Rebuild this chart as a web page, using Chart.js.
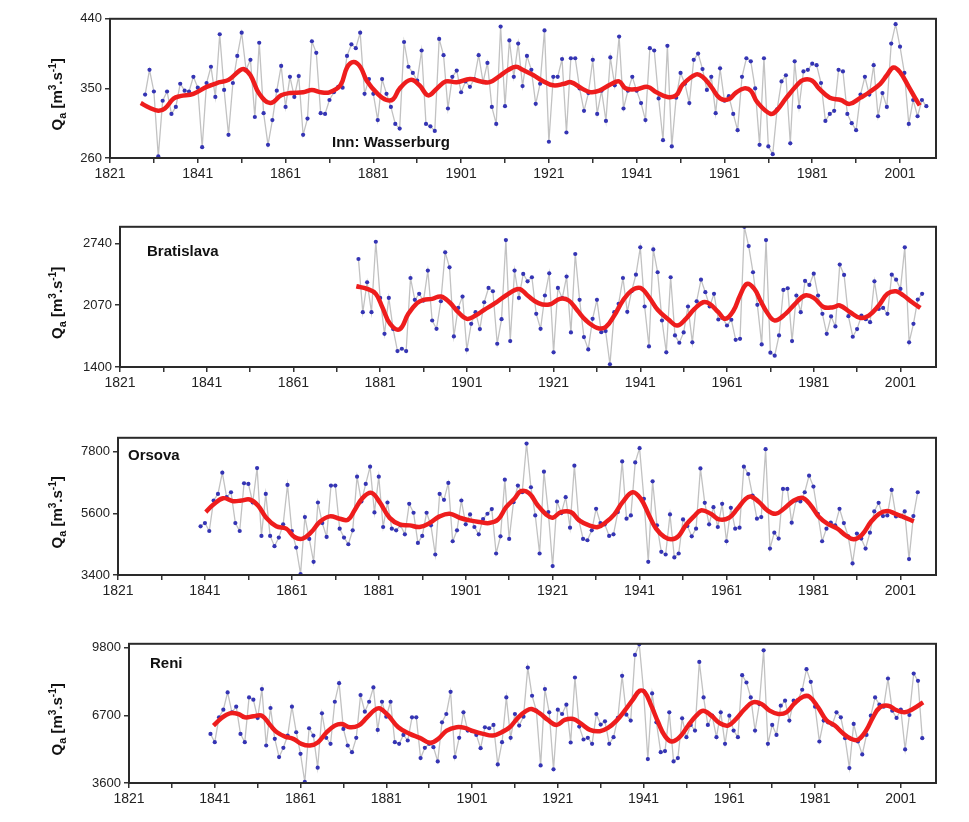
<!DOCTYPE html>
<html>
<head>
<meta charset="utf-8">
<script src="https://cdn.jsdelivr.net/npm/chart.js@4.4.1/dist/chart.umd.min.js"></script>
<style>
body{margin:0;background:#fff;}
#wrap{position:relative;width:969px;height:822px;overflow:hidden;}
#wrap canvas{position:absolute;left:0;}
</style>
</head>
<body>
<div id="wrap"></div>
<script>
/* annual discharge Qa, one value per year from the start year */
const stations = ["Inn: Wasserburg","Bratislava","Orsova","Reni"];
const startYears = [1829, 1876, 1840, 1840];

const innQ = [342,374,346,262,334,346,317,326,356,347,346,365,351,274,357,378,339,420,348,290,
357,392,422,374,387,313,409,318,277,309,347,379,326,365,339,366,290,311,411,396,
318,317,335,345,352,351,392,407,402,422,343,362,343,309,362,343,326,304,298,
410,378,370,360,399,304,301,295,414,393,324,365,373,345,359,352,362,393,358,383,
326,304,430,327,412,365,408,353,392,374,330,356,425,281,365,365,388,293,389,389,
350,321,344,387,317,347,308,390,354,417,324,347,365,347,331,309,402,399,337,283,
405,275,338,370,
356,331,387,395,375,348,365,318,376,334,340,317,296,365,389,385,350,277,389,275,
265,323,359,367,279,385,326,372,374,382,380,357,308,317,321,374,372,317,305,296,
342,365,342,380,314,344,326,408,433,404,370,304,335,314,335,327];

const bratQ = [2571,1994,2319,1994,2758,2149,1760,2149,1811,1573,1598,1573,
2365,2128,2193,2120,2445,1904,1814,2113,2643,2481,1732,2041,2164,1587,1868,1994,1811,2102,
2257,2221,1652,1919,2776,1681,2445,2149,2409,2329,2373,1976,1814,2175,2416,1559,2257,2146,
2380,1775,2625,2128,1724,1591,1922,2128,1778,1789,1429,1994,2085,2365,1998,2221,2401,2697,
2056,1623,2675,2427,1904,1559,2373,1742,1663,
1775,2056,1667,2113,2347,2211,2056,2193,1915,1930,1850,1912,1695,1706,2920,2711,2427,2074,
1645,2776,1555,1523,1742,2236,2254,1681,2175,1994,2333,2290,2412,2175,1976,1760,1948,1840,
2510,2398,1951,1728,1811,1958,1919,1886,2329,2030,2041,1976,2401,2347,2247,2697,1667,1868,
2131,2193];

const orsQ = [5138,5256,4972,6061,6297,7054,6179,6356,5256,4972,6676,6652,5990,7220,4795,6297,
4795,4428,4736,5209,6617,4972,4381,3434,5469,4688,3872,5990,5256,4759,6593,6593,5055,4736,
4499,4996,6912,6025,6652,7267,5635,6912,5114,5990,5055,4996,
5173,4854,5942,5623,4546,4795,5623,5173,4132,6297,6084,6688,4605,4996,6061,5209,5564,5114,
4854,5398,5587,5753,4168,4783,6806,4688,6002,6593,6356,8095,6534,5528,4168,7090,5647,3718,
6025,5611,6179,5091,7303,5374,4688,4641,4996,5765,5256,5209,4795,4854,5647,7457,5410,5528,
7421,7930,6120,3872,6747,5173,4227,4132,5564,4026,4168,
5386,5150,4783,5055,7208,5978,5209,5824,5114,5942,4605,5800,5055,5091,7267,7007,6238,5410,
5469,7894,4345,4913,4700,6475,6475,5268,6061,6025,6356,6948,6557,5587,4605,5055,5268,5173,
5765,5256,4783,3813,4878,4700,4345,4913,5670,5978,5505,5528,6439,5493,5505,5670,3967,5505,
6356];

const reniQ = [5851,5471,6611,6961,7751,6839,7097,5851,5471,7523,7417,6581,7903,5319,7037,5623,
4787,5213,5775,7097,5927,4939,3647,6109,5775,4301,6793,5669,5395,7325,8177,6079,5319,5015,
5669,7629,6869,7325,7979,6033,7325,6641,7325,5471,
5395,5805,5547,6611,6611,4741,5213,5395,5243,4589,6383,6763,7781,4787,5669,6839,6003,5973,
5805,5197,6155,6109,6261,4453,5471,7523,5669,6763,6231,6641,8891,7599,6915,4407,7903,6839,
4225,6961,6763,7189,5456,8435,6185,5593,5669,5395,6763,6277,6429,5395,5699,6581,8511,6733,
6459,9469,9955,7827,4695,7705,6383,5015,5061,6839,4589,4741,
6565,5699,6261,6003,9149,7523,6261,6687,5699,6839,5395,6687,6003,5699,8541,8207,7523,6003,
7219,9681,5395,6261,5805,7143,7371,6459,7371,7401,7873,8815,8237,7097,5501,6459,6383,6277,
6839,6611,5653,4285,6307,5501,4909,5805,6687,7523,7189,7097,8389,6915,6581,6961,5137,6717,
8617,8283,5653];

/* smoothed curve (red) */
const innSmYr = [1828,1830,1832,1833.5,1835.5,1837,1840,1843,1846,1848,1850.5,1851.5,1853,1855,1857.5,1860,
1862,1865,1867,1869,1871,1873.5,1875,1876.5,1878,1879.5,1882,1884,1885.5,1887,1889.5,1891.5,1893.5,
1895.5,1897.5,1900,1903,1905.5,1907.5,1910,1911.5,1913.5,1915,1917.5,1919.5,1922,1924.5,1926,1928.5,
1930.5,1932.5,1935,1937,1938.5,1941,1943.5,1945.5,1948,1950,1951.5,1954.5,1956,1958,1960,1962,1963.5,
1965.5,1967,1968.5,1971.5,1973,1975,1977.5,1979,1981,1982.5,1985,1987.5,1989.5,1992,1994,1996.5,1998,
1999.5,2001,2003,2004.5,2005.5];
const innSmQ = [331,325,321,324,337,340,343,352,358,361,373,375,367,343,331,341,
344,345,348,345,345,354,377,384,378,360,343,335,336,350,361,354,341,
350,359,358,362,359,358,367,373,378,374,367,360,354,356,358,350,
345,347,355,359,350,349,352,345,339,341,355,368,365,352,337,336,344,
350,347,332,317,322,337,354,361,360,350,338,335,330,338,345,356,367,
377,371,352,337,328];

const bratSmYr = [1875.5,1878,1880,1881.5,1883.3,1885.5,1887.5,1889.5,1891,1893,1895,1897,1899,1901,1903,
1905,1907.5,1910,1913,1915,1917.5,1920,1922.5,1924.5,1926.5,1928.5,1931,1933,1935,1937,1939,1941,
1943,1945,1947.5,1949.5,1951.5,1953.5,1955.5,1957,1959,1960.6,1962.5,1964,1965.6,1967.3,1968.7,
1970.2,1972,1974.5,1976.7,1979,1981,1983.3,1985.5,1987,1989.4,1991.7,1993.7,1996,1998,2000,
2001.7,2003.7,2005.6];
const bratSmQ = [2275,2247,2193,2049,1868,1810,1976,2092,2128,2139,2164,2102,1994,1922,1958,
2020,2092,2175,2247,2175,2092,2077,2139,2121,2012,1904,1825,1832,1958,2121,2229,2257,
2157,2020,1915,1850,1922,2030,2102,2085,1994,1922,2012,2175,2301,2247,2121,
1994,1904,1976,2085,2175,2149,2049,2049,2067,1994,1933,1958,2067,2193,2221,
2175,2102,2041];

const orsSmYr = [1841.2,1842.9,1845.2,1847.5,1849.4,1851.3,1853.2,1855.1,1857.4,1859.7,1861.6,1863.5,1865.5,
1867.4,1869.7,1872,1873.9,1875.4,1877.3,1879.3,1881.2,1883.5,1885.8,1888.1,1890.4,1892.7,1895,1897.3,
1899.6,1901.9,1904.2,1906.4,1908.4,1910.3,1912.2,1913.7,1915.6,1917.6,1919.5,1921,1922.9,1925.2,
1927.1,1929.4,1931.4,1933.3,1935.2,1937.1,1939.4,1941.3,1943.2,1944.8,1946.7,1948.4,1950,1951.6,
1953.5,1955.1,1957.4,1959.3,1961.6,1963.5,1965.4,1966.6,1968.5,1970.4,1972.3,1974.2,1976.5,1978.5,
1980.4,1982.3,1984.2,1986.5,1988.4,1990.3,1992.2,1994.2,1996.1,1998,1999.9,2001.8,2004.1];
const orsSmQ = [5647,5907,6143,6037,6061,6096,5883,5445,5138,5055,4759,4700,4937,
5292,5493,5410,5374,5706,6155,6333,6002,5440,5209,5173,5114,5256,5493,5587,
5445,5351,5292,5256,5374,5824,6120,6392,6321,5883,5564,5445,5647,5647,
5351,5173,5114,5292,5564,6002,6356,6120,5528,5055,4759,4677,4800,5173,
5493,5706,5587,5386,5445,5765,6120,6203,6002,5706,5587,5765,6061,6155,
5883,5469,5233,5055,4818,4677,4842,5292,5587,5682,5587,5469,5315];

const reniSmYr = [1840.7,1842.6,1844.5,1846.5,1848,1850,1852,1854,1855.5,1857.4,1859.3,1861.2,1863.2,1865.1,
1867.1,1869,1870.6,1872.5,1874.5,1876.4,1878.3,1879.5,1881.5,1883.8,1886.5,1888.8,1891.2,1893.1,1895.1,
1897.4,1899.3,1901.3,1903.6,1905.9,1907.9,1909.8,1911.8,1913.7,1914.9,1916.8,1918.7,1920.7,1922.6,
1924.6,1926.5,1928.5,1930.8,1932.7,1934.7,1936.6,1938.6,1940.1,1941.3,1942.8,1944.4,1945.9,1947.5,
1949.4,1951.4,1953.3,1954.9,1956.8,1958.8,1960.7,1962.6,1964.6,1966.5,1968.5,1970.4,1972.4,1974.3,
1976.2,1978.2,1979.7,1981.7,1983.6,1985.6,1987.5,1989.4,1991,1992.9,1994.5,1996.1,1998,1999.9,
2001.9,2003.8,2006.2];
const reniSmQ = [6231,6581,6793,6763,6611,6657,6687,6231,5927,5729,5623,5395,5319,5471,
5927,6231,6307,6155,6231,6581,6945,7021,6687,6155,5851,5669,5441,5623,6003,
6155,6125,5973,5851,5775,5927,6155,6611,6915,6991,6793,6489,6261,6489,
6535,6307,6033,5973,6125,6459,6915,7447,7827,7751,7143,6383,5775,5500,
5699,6231,6687,6915,6687,6337,6231,6535,6991,7295,7219,6915,6763,6839,
7249,7553,7553,7067,6489,6231,5881,5623,5577,6003,6611,7067,7143,6945,
6839,6991,7295];

const yMins = [260, 1400, 3400, 3600];
const yMaxs = [440, 2920, 8300, 9980];
const yTickVals = [[260,350,440],[1400,2070,2740],[3400,5600,7800],[3600,6700,9800]];
const xTickYears = [1821,1831,1841,1851,1861,1871,1881,1891,1901,1911,1921,1931,1941,1951,1961,1971,1981,1991,2001];
const xMin = 1821, xMax = 2009.2;
const yTitleParts = ["Q","a"," [m","3",".s","-1","]"];

const obsSeries = [innQ, bratQ, orsQ, reniQ];
const smYears = [innSmYr, bratSmYr, orsSmYr, reniSmYr];
const smSeries = [innSmQ, bratSmQ, orsSmQ, reniSmQ];

/* layout in page pixels */
const boxes = [
    {left:110, top:18,  bottom:158},
    {left:120, top:226, bottom:367},
    {left:118, top:437, bottom:575},
    {left:129, top:643, bottom:783}
];
const nameAt = [[332,143],[147,252],[128,456],[150,664]];
const RIGHT = 936, PADTOP = 10, XAXIS_H = 30;

Chart.defaults.font.family = '"Liberation Sans", Arial, sans-serif';
Chart.defaults.color = "#222";

function drawYTitle(ctx, cx, cy){
    // Q_a [m^3.s^-1], rotated
    const spec = [[15,0],[11,4],[15,0],[10,-6],[15,0],[10,-6],[15,0]];
    ctx.save();
    ctx.translate(cx, cy);
    ctx.rotate(-Math.PI/2);
    let w = 0;
    yTitleParts.forEach((t,i)=>{
        ctx.font = "bold " + spec[i][0] + 'px "Liberation Sans", Arial, sans-serif';
        w += ctx.measureText(t).width;
    });
    let x = -w/2;
    ctx.fillStyle = "#111";
    ctx.textBaseline = "alphabetic";
    yTitleParts.forEach((t,i)=>{
        ctx.font = "bold " + spec[i][0] + 'px "Liberation Sans", Arial, sans-serif';
        ctx.fillText(t, x, 5 + spec[i][1]);
        x += ctx.measureText(t).width;
    });
    ctx.restore();
}

const wrap = document.getElementById("wrap");

stations.forEach((name, p)=>{
    const b = boxes[p];
    const cTop = b.top - PADTOP;
    const cH = (b.bottom - b.top) + PADTOP + XAXIS_H;
    const cv = document.createElement("canvas");
    cv.width = 969; cv.height = cH;
    cv.style.top = cTop + "px";
    wrap.appendChild(cv);

    const obs = obsSeries[p].map((v,i)=>({x:startYears[p]+i, y:v}));
    const sm = smYears[p].map((yr,i)=>({x:yr, y:smSeries[p][i]}));

    const framePlugin = {
        id:"frame"+p,
        afterDatasetsDraw(chart){
            const a = chart.chartArea, ctx = chart.ctx;
            ctx.save();
            ctx.strokeStyle = "#2a2a2a";
            ctx.lineWidth = 2;
            ctx.strokeRect(a.left, a.top, a.right-a.left, a.bottom-a.top);
            ctx.font = 'bold 15px "Liberation Sans", Arial, sans-serif';
            ctx.fillStyle = "#111";
            ctx.textBaseline = "middle";
            ctx.fillText(name, nameAt[p][0], nameAt[p][1] - cTop);
            ctx.restore();
            drawYTitle(ctx, 57, (a.top + a.bottom)/2 + 6);
        }
    };

    new Chart(cv, {
        type:"line",
        data:{
            datasets:[
                {
                    label:"smoothed",
                    data:sm,
                    borderColor:"#ee1d1d",
                    borderWidth:4.5,
                    pointRadius:0,
                    tension:0.4,
                    order:0
                },
                {
                    label:"Qa",
                    data:obs,
                    borderColor:"#c2c2c2",
                    borderWidth:1.3,
                    pointRadius:2.1,
                    pointBackgroundColor:"#3434b4",
                    pointBorderColor:"#3434b4",
                    pointBorderWidth:0,
                    tension:0,
                    order:1
                }
            ]
        },
        options:{
            responsive:false,
            animation:false,
            events:[],
            layout:{padding:{top:PADTOP, right:969-RIGHT, left:0, bottom:0}},
            plugins:{legend:{display:false}, tooltip:{enabled:false}},
            scales:{
                x:{
                    type:"linear",
                    min:xMin, max:xMax,
                    afterBuildTicks(s){ s.ticks = xTickYears.map(v=>({value:v})); },
                    afterFit(s){ s.height = XAXIS_H; },
                    ticks:{
                        autoSkip:false, maxRotation:0, padding:3,
                        font:{size:14},
                        callback:(v)=> ((v-1821)%20===0 ? String(v) : "")
                    },
                    grid:{display:true, drawOnChartArea:false, drawTicks:true, tickLength:5, color:"#333", lineWidth:1.5},
                    border:{display:false}
                },
                y:{
                    type:"linear",
                    min:yMins[p], max:yMaxs[p],
                    afterBuildTicks(s){ s.ticks = yTickVals[p].map(v=>({value:v})); },
                    afterFit(s){ s.width = b.left; },
                    ticks:{font:{size:13}, padding:3, callback:(v)=>String(v)},
                    grid:{display:true, drawOnChartArea:false, drawTicks:true, tickLength:5, color:"#333", lineWidth:1.5},
                    border:{display:false}
                }
            }
        },
        plugins:[framePlugin]
    });
});
</script>
</body>
</html>
